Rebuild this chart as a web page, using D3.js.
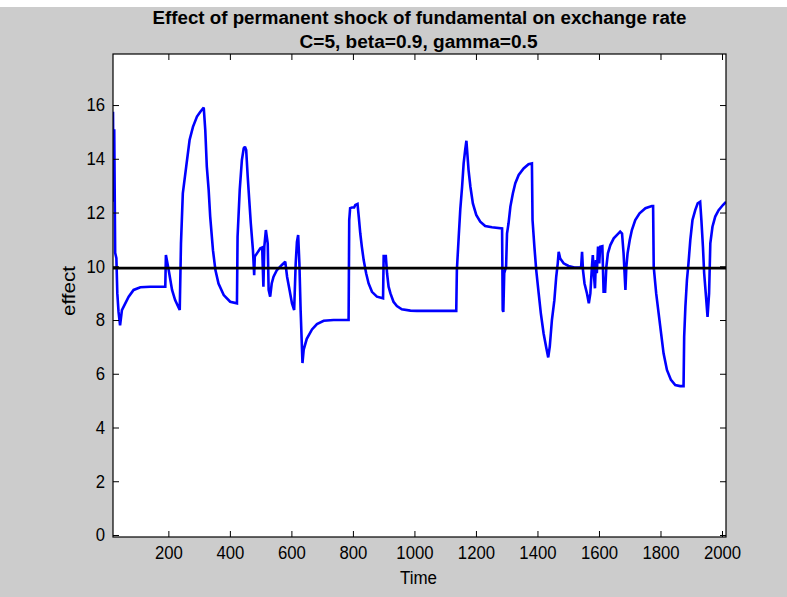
<!DOCTYPE html>
<html>
<head>
<meta charset="utf-8">
<script src="https://cdn.jsdelivr.net/npm/d3@7"></script>
<style>
  html, body { margin: 0; padding: 0; background: #cccccc; }
  svg { display: block; }
  text { font-family: "Liberation Sans", Arial, Helvetica, sans-serif; fill: #000; }
</style>
</head>
<body>
<svg id="chart" width="787" height="597"></svg>
<script>
// Simulated exchange-rate response over time
const time = [
  20, 22, 24, 27, 31, 34, 38, 43, 49, 60, 71, 87, 109, 141, 190,
  192, 201, 212, 222, 237, 241, 247, 258, 269, 280, 293, 304, 315,
  320, 325, 331, 336, 345, 353, 363, 380, 401, 423,
  425, 432, 439, 445, 449, 453, 458, 463, 468, 475, 479,
  481, 488, 499, 505, 509, 512, 517, 523, 526, 531, 536, 542, 553, 569, 580,
  586, 594, 602, 609, 614, 618, 622, 626, 630, 636, 640, 650, 667, 683, 705, 737, 786,
  788, 791, 797, 804, 808, 815, 819, 824, 829, 835, 843, 851, 862, 878, 898,
  900, 907, 911, 916, 922, 932, 943, 959, 987, 1008, 1136,
  1138, 1144, 1149, 1155, 1160, 1165, 1169, 1172, 1176, 1182, 1190, 1201, 1214, 1230, 1252, 1285,
  1287, 1289, 1292, 1298, 1301, 1306, 1312, 1320, 1328, 1339, 1355, 1371, 1382,
  1384, 1390, 1396, 1404, 1411, 1420, 1429, 1435, 1440, 1447, 1455, 1461, 1466, 1469, 1474, 1485, 1501,
  1520, 1540, 1542, 1545, 1548, 1553, 1561, 1567, 1572, 1577, 1580, 1584, 1587, 1590, 1593, 1597,
  1601, 1604, 1611, 1615, 1620, 1624, 1629, 1637, 1648, 1658, 1669, 1675, 1680, 1686,
  1689, 1693, 1700, 1707, 1718, 1732, 1751, 1772, 1776,
  1778, 1786, 1794, 1802, 1810, 1821, 1834, 1848, 1864, 1875,
  1877, 1881, 1886, 1891, 1897, 1904, 1913, 1921, 1929,
  1933, 1938, 1942, 1948, 1953, 1958, 1962, 1969, 1978, 1989, 2003, 2013
];
const effect = [
  15.75, 12.4, 15.1, 10.5, 10.3, 9.0, 8.3, 7.8, 8.37, 8.62, 8.87, 9.12, 9.22, 9.24, 9.24,
  10.42, 9.86, 9.12, 8.74, 8.37, 10.85, 12.71, 13.71, 14.70, 15.19, 15.57, 15.75, 15.91,
  15.07, 13.71, 12.84, 11.85, 10.60, 9.86, 9.36, 8.93, 8.68, 8.62,
  11.1, 12.84, 13.95, 14.39, 14.45, 14.33, 13.33, 12.46, 11.6, 10.60, 9.67,
  10.36, 10.48, 10.67, 10.70, 9.24, 10.73, 11.35, 10.85, 9.12, 8.87, 9.36, 9.61, 9.86, 10.05, 10.17,
  9.61, 9.12, 8.62, 8.37, 10.11, 10.91, 11.16, 10.11, 8.37, 6.4, 6.9, 7.3, 7.65, 7.85, 7.97, 8.0, 8.0,
  11.72, 12.16, 12.19, 12.19, 12.28, 12.32, 11.85, 11.22, 10.73, 10.23, 9.74, 9.36, 9.05, 8.87, 8.81,
  10.38, 10.38, 9.74, 9.24, 8.99, 8.68, 8.52, 8.40, 8.35, 8.34, 8.34,
  9.86, 11.1, 12.1, 12.96, 13.83, 14.33, 14.67, 14.20, 13.58, 12.96, 12.34, 11.91, 11.66, 11.5, 11.45, 11.41,
  8.37, 8.3, 9.74, 9.98, 11.22, 11.6, 12.22, 12.71, 13.09, 13.40, 13.64, 13.80, 13.83,
  11.72, 10.73, 9.86, 8.99, 8.25, 7.5, 6.95, 6.61, 7.01, 8.0, 8.74, 9.61, 10.11, 10.54, 10.29, 10.11, 10.01,
  9.95, 9.95, 9.98, 10.54, 9.86, 9.36, 8.99, 8.62, 8.99, 9.98, 10.42, 9.61, 9.18, 10.23, 9.74, 10.73,
  10.11, 10.73, 10.75, 9.05, 9.05, 9.98, 10.48, 10.79, 11.04, 11.16, 11.29, 11.22, 10.48, 9.12,
  9.98, 10.48, 10.98, 11.35, 11.72, 11.97, 12.16, 12.24, 12.24,
  9.98, 8.99, 8.25, 7.5, 6.76, 6.14, 5.77, 5.58, 5.54, 5.54,
  7.38, 8.5, 9.49, 10.11, 10.98, 11.72, 12.09, 12.34, 12.40,
  11.72, 10.73, 9.74, 8.87, 8.12, 8.99, 10.85, 11.47, 11.85, 12.09, 12.28, 12.40
];
// Reference level drawn as a horizontal line
const referenceLevel = [9.93];

const xTicks = [200, 400, 600, 800, 1000, 1200, 1400, 1600, 1800, 2000];
const yTicks = [0, 2, 4, 6, 8, 10, 12, 14, 16];
const titleLines = ["Effect of permanent shock of fundamental on exchange rate",
                    "C=5, beta=0.9, gamma=0.5"];
const xLabel = "Time";
const yLabel = "effect";

const W = 787, H = 597;
const plot = { left: 113, right: 726, top: 54, bottom: 537 };

const svg = d3.select("#chart");

// figure background with a thin white strip on top
svg.append("rect").attr("x", 0).attr("y", 0).attr("width", W).attr("height", H).attr("fill", "#cccccc");
svg.append("rect").attr("x", 0).attr("y", 0).attr("width", W).attr("height", 7).attr("fill", "#ffffff");

const x = d3.scaleLinear().domain([20, 2013]).range([plot.left, plot.right]);
const y = d3.scaleLinear().domain([-0.075, 17.9]).range([plot.bottom, plot.top]);

// plot area
svg.append("rect")
  .attr("x", plot.left).attr("y", plot.top)
  .attr("width", plot.right - plot.left).attr("height", plot.bottom - plot.top)
  .attr("fill", "#ffffff");

svg.append("clipPath").attr("id", "plotClip")
  .append("rect")
  .attr("x", plot.left).attr("y", plot.top)
  .attr("width", plot.right - plot.left).attr("height", plot.bottom - plot.top);

const data = time.map((t, i) => ({ t, v: effect[i] }));
const line = d3.line().x(d => x(d.t)).y(d => y(d.v));

const marks = svg.append("g").attr("clip-path", "url(#plotClip)");

marks.append("path")
  .datum(data)
  .attr("d", line)
  .attr("fill", "none")
  .attr("stroke", "#0000ff")
  .attr("stroke-width", 2.6)
  .attr("stroke-linejoin", "miter")
  .attr("stroke-miterlimit", 2);

marks.append("line")
  .attr("x1", x.range()[0]).attr("x2", x.range()[1])
  .attr("y1", y(referenceLevel[0])).attr("y2", y(referenceLevel[0]))
  .attr("stroke", "#000000")
  .attr("stroke-width", 2.6);

// axes with inward ticks on all four sides
const tickLen = 6;
const fontSize = 18;
const digitWidth = 9.3;

const gx = svg.append("g").attr("transform", `translate(0,${plot.bottom})`)
  .call(d3.axisBottom(x).tickValues(xTicks).tickFormat(d3.format("d"))
    .tickSizeInner(-tickLen).tickSizeOuter(0).tickPadding(9));
const gxTop = svg.append("g").attr("transform", `translate(0,${plot.top})`)
  .call(d3.axisTop(x).tickValues(xTicks).tickFormat("")
    .tickSizeInner(-tickLen).tickSizeOuter(0));
const gy = svg.append("g").attr("transform", `translate(${plot.left},0)`)
  .call(d3.axisLeft(y).tickValues(yTicks).tickFormat(d3.format("d"))
    .tickSizeInner(-tickLen).tickSizeOuter(0).tickPadding(8));
const gyRight = svg.append("g").attr("transform", `translate(${plot.right},0)`)
  .call(d3.axisRight(y).tickValues(yTicks).tickFormat("")
    .tickSizeInner(-tickLen).tickSizeOuter(0));

[gx, gxTop, gy, gyRight].forEach(g => {
  g.select(".domain").remove();
  g.selectAll(".tick line").attr("stroke", "#000").attr("stroke-width", 1);
  g.selectAll("text").attr("font-size", fontSize)
    .attr("font-family", '"Liberation Sans", Arial, Helvetica, sans-serif')
    .attr("fill", "#000")
    .each(function () {
      const s = d3.select(this).text();
      if (s.length) {
        d3.select(this).attr("textLength", s.length * digitWidth)
          .attr("lengthAdjust", "spacingAndGlyphs");
      }
    });
});

// plot box
svg.append("rect")
  .attr("x", plot.left).attr("y", plot.top)
  .attr("width", plot.right - plot.left).attr("height", plot.bottom - plot.top)
  .attr("fill", "none").attr("stroke", "#000").attr("stroke-width", 1.2);

// title
const cx = (plot.left + plot.right) / 2;
svg.append("text")
  .attr("x", cx).attr("y", 24)
  .attr("text-anchor", "middle")
  .attr("font-size", 18).attr("font-weight", "bold")
  .attr("textLength", 534).attr("lengthAdjust", "spacingAndGlyphs")
  .text(titleLines[0]);
svg.append("text")
  .attr("x", cx - 1).attr("y", 48)
  .attr("text-anchor", "middle")
  .attr("font-size", 18).attr("font-weight", "bold")
  .attr("textLength", 238).attr("lengthAdjust", "spacingAndGlyphs")
  .text(titleLines[1]);

// axis labels
svg.append("text")
  .attr("x", cx - 1).attr("y", 584)
  .attr("text-anchor", "middle")
  .attr("font-size", fontSize)
  .attr("textLength", 37).attr("lengthAdjust", "spacingAndGlyphs")
  .text(xLabel);
svg.append("text")
  .attr("transform", `translate(75,291) rotate(-90)`)
  .attr("text-anchor", "middle")
  .attr("font-size", fontSize)
  .attr("textLength", 50).attr("lengthAdjust", "spacingAndGlyphs")
  .text(yLabel);
</script>
</body>
</html>
